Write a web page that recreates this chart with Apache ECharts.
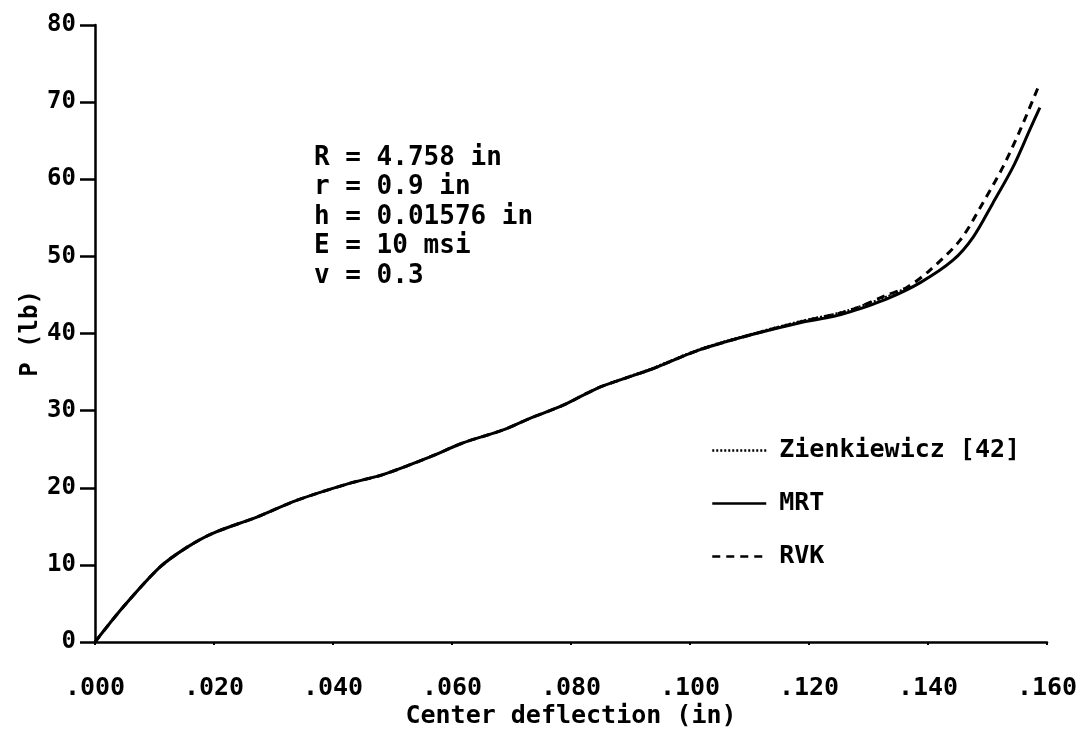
<!DOCTYPE html>
<html>
<head>
<meta charset="utf-8">
<script src="https://cdn.jsdelivr.net/npm/echarts@6/dist/echarts.min.js"></script>
<style>html,body{margin:0;padding:0;background:#fff}#c{width:1084px;height:734px}</style>
</head>
<body>
<div id="c"></div>
<script>
// ---- data ----
const mrtX = [0, 0.0047, 0.0109, 0.0155, 0.0198, 0.0272, 0.034, 0.0429, 0.0484, 0.0563, 0.0618, 0.0686, 0.0731, 0.0787, 0.0844, 0.0899, 0.0933, 0.1017, 0.1101, 0.1185, 0.124, 0.1269, 0.1331, 0.1387, 0.1442, 0.1476, 0.1509, 0.1543, 0.1571, 0.1588];
const mrtP = [0, 4.5, 9.7, 12.3, 14.1, 16.2, 18.4, 20.6, 21.7, 24.0, 25.8, 27.5, 29.0, 30.7, 32.9, 34.4, 35.3, 37.9, 39.8, 41.4, 42.2, 42.8, 44.5, 46.6, 49.5, 52.5, 56.9, 61.6, 66.4, 69.3];

const rvkX = [0, 0.0047, 0.0109, 0.0155, 0.0198, 0.0272, 0.034, 0.0429, 0.0484, 0.0563, 0.0618, 0.0686, 0.0731, 0.0787, 0.0844, 0.0899, 0.0933, 0.1017, 0.1101, 0.1185, 0.1269, 0.1331, 0.1365, 0.1403, 0.1454, 0.1492, 0.1526, 0.1555, 0.1585];
const rvkP = [0, 4.5, 9.7, 12.3, 14.1, 16.2, 18.4, 20.6, 21.7, 24.0, 25.8, 27.5, 29.0, 30.7, 32.9, 34.4, 35.3, 37.9, 39.8, 41.5, 43.0, 45.0, 46.0, 48.2, 52.1, 56.9, 61.6, 66.4, 71.9];

const zienX = [0, 0.0047, 0.0109, 0.0155, 0.0198, 0.0272, 0.034, 0.0429, 0.0484, 0.0563, 0.0618, 0.0686, 0.0731, 0.0787, 0.0844, 0.0899, 0.0933, 0.1017, 0.1101, 0.1185, 0.124, 0.1269, 0.1331, 0.136];
const zienP = [0, 4.5, 9.7, 12.3, 14.1, 16.2, 18.4, 20.6, 21.7, 24.0, 25.8, 27.5, 29.0, 30.7, 32.9, 34.5, 35.4, 38.0, 39.9, 41.6, 42.5, 43.1, 44.8, 45.8];

const xTicks = ['.000', '.020', '.040', '.060', '.080', '.100', '.120', '.140', '.160'];
const yTicks = ['0', '10', '20', '30', '40', '50', '60', '70', '80'];
const seriesNames = ['Zienkiewicz [42]', 'MRT', 'RVK'];
const noteLines = ['R = 4.758 in', 'r = 0.9 in', 'h = 0.01576 in', 'E = 10 msi', 'v = 0.3'];
const xName = 'Center deflection (in)';
const yName = 'P (lb)';

const pairs = (xs, ys) => xs.map((x, i) => [x, ys[i]]);
const FONT = '"DejaVu Sans Mono", "Liberation Mono", monospace';

const chart = echarts.init(document.getElementById('c'), null, {renderer: 'canvas'});
chart.setOption({
  animation: false,
  backgroundColor: '#fff',
  grid: {left: 95, right: 37, top: 25, bottom: 92, containLabel: false},
  xAxis: {
    type: 'value', min: 0, max: 0.16, interval: 0.02,
    name: xName, nameLocation: 'middle', nameGap: 62, nameMoveOverlap: false,
    nameTextStyle: {fontFamily: FONT, fontWeight: 'bold', fontSize: 25, color: '#000'},
    axisLine: {show: true, onZero: false, lineStyle: {color: '#000', width: 2.5}},
    axisTick: {show: true, length: 3, lineStyle: {color: '#000', width: 2}},
    axisLabel: {margin: 34, fontFamily: FONT, fontWeight: 'bold', fontSize: 25, color: '#000',
      formatter: (v) => xTicks[Math.round(v / 0.02)]},
    splitLine: {show: false}
  },
  yAxis: {
    type: 'value', min: 0, max: 80, interval: 10,
    name: yName, nameLocation: 'middle', nameGap: 52, nameRotate: 90, nameMoveOverlap: false,
    nameTextStyle: {fontFamily: FONT, fontWeight: 'bold', fontSize: 24, color: '#000'},
    axisLine: {show: true, lineStyle: {color: '#000', width: 2.5}},
    axisTick: {show: true, length: 15, lineStyle: {color: '#000', width: 2.5}},
    axisLabel: {margin: 19, fontFamily: FONT, fontWeight: 'bold', fontSize: 24, color: '#000',
      formatter: (v) => yTicks[Math.round(v / 10)]},
    splitLine: {show: false}
  },
  legend: {
    orient: 'vertical', left: 706, top: 433, itemWidth: 54, itemHeight: 20, itemGap: 28,
    itemStyle: {opacity: 0},
    lineStyle: {width: 2.5},
    textStyle: {fontFamily: FONT, fontWeight: 'bold', fontSize: 25, color: '#000', padding: [0, 0, 0, 8]},
    data: seriesNames
  },
  graphic: [{
    type: 'text', left: 314, top: 143,
    style: {text: noteLines.join('\n'), fontFamily: FONT, fontWeight: 'bold', fontSize: 26,
      lineHeight: 29.5, fill: '#000'}
  }],
  series: [
    {name: seriesNames[1], type: 'line', symbol: 'none', smooth: 0.3, z: 2,
      lineStyle: {color: '#000', width: 3, type: 'solid'}, data: pairs(mrtX, mrtP)},
    {name: seriesNames[2], type: 'line', symbol: 'none', smooth: 0.3, z: 3,
      lineStyle: {color: '#000', width: 3, type: [8, 6]}, data: pairs(rvkX, rvkP)},
    {name: seriesNames[0], type: 'line', symbol: 'none', smooth: 0.3, z: 4,
      lineStyle: {color: '#000', width: 2, type: [2, 2]}, data: pairs(zienX, zienP)}
  ]
});
</script>
</body>
</html>
